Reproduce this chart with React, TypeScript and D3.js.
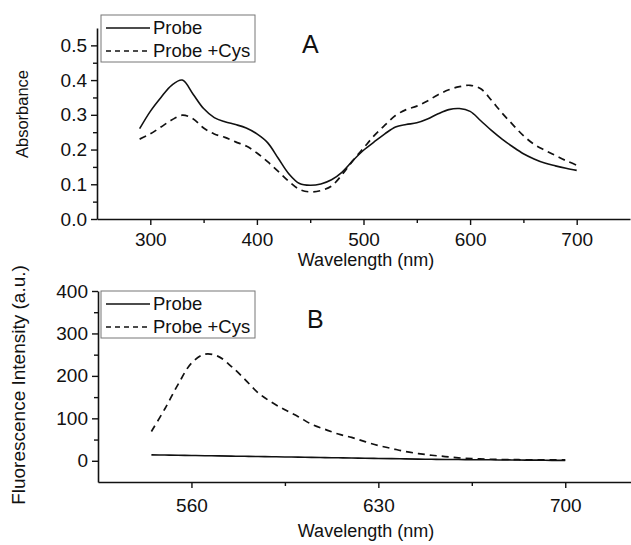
import React, { useEffect, useRef } from "react";
import * as d3 from "d3";

// Panel A: absorbance spectra
const absWavelength = [290,300,310,320,330,340,350,360,370,380,390,400,410,420,430,440,450,460,470,480,490,500,510,520,530,540,550,560,570,580,590,600,610,620,630,640,650,660,670,680,690,700];
const absProbe = [0.26,0.31,0.35,0.385,0.40,0.36,0.318,0.292,0.28,0.272,0.262,0.245,0.22,0.175,0.13,0.102,0.097,0.101,0.113,0.135,0.168,0.198,0.222,0.245,0.265,0.272,0.277,0.288,0.303,0.315,0.318,0.31,0.283,0.255,0.23,0.208,0.188,0.173,0.161,0.153,0.146,0.14];
const absProbeCys = [0.23,0.245,0.265,0.285,0.299,0.289,0.262,0.245,0.235,0.222,0.21,0.19,0.165,0.137,0.108,0.085,0.078,0.082,0.095,0.128,0.168,0.204,0.24,0.27,0.298,0.315,0.325,0.34,0.358,0.372,0.381,0.385,0.375,0.342,0.305,0.272,0.24,0.215,0.198,0.183,0.168,0.155];

// Panel B: fluorescence spectra
const flWavelength = [545,550,555,560,565,570,575,580,585,590,595,600,605,610,615,620,625,630,635,640,645,650,655,660,665,670,675,680,685,690,695,700];
const flProbe = [14,13.5,13,12.5,12,11.5,11,10.5,10,9.5,9,8.5,8,7.5,7,6.5,6,5.5,5,4.5,4,3.5,3,3,2.5,2.5,2,2,1.5,1.5,1,1];
const flProbeCys = [69,122,180,230,251,246,222,192,160,138,120,104,86,74,63,55,45,36,29,22,17,13,10,7,5,4,3,3,2,2,2,2];

const seriesNames = ["Probe", "Probe +Cys"];
const absXTicks = [300, 400, 500, 600, 700];
const absXMinor = [350, 450, 550, 650];
const absYTicks = [0, 0.1, 0.2, 0.3, 0.4, 0.5];
const absYMinor = [0.05, 0.15, 0.25, 0.35, 0.45];
const flXTicks = [560, 630, 700];
const flXMinor = [595, 665];
const flYTicks = [0, 100, 200, 300, 400];
const flYMinor = [50, 150, 250, 350];

const FONT = "'Liberation Sans', Arial, Helvetica, sans-serif";

export default function App() {
  const ref = useRef<SVGSVGElement | null>(null);

  useEffect(() => {
    const svg = d3.select(ref.current);
    svg.selectAll("*").remove();
    svg.append("rect").attr("width", 631).attr("height", 545).attr("fill", "#fff");

    const drawPanel = (opts: any) => {
      const { x, y, xTicks, xMinor, yTicks, yMinor, yFmt, xPad, wl, s1, s2, legendY, letter, letterX, letterY, ylabel, ylabelX, ylabelY, ylabelSize, xlabelY } = opts;
      const g = svg.append("g").attr("font-family", FONT);
      const [y0] = y.range();
      const [x0] = x.range();

      const xAxis = g.append("g").attr("transform", `translate(0,${y0})`)
        .call(d3.axisBottom(x).tickValues(xTicks).tickSize(6).tickPadding(xPad).tickSizeOuter(0).tickFormat(d3.format("d") as any));
      g.append("g").attr("transform", `translate(0,${y0})`)
        .call(d3.axisBottom(x).tickValues(xMinor).tickSize(4).tickSizeOuter(0).tickFormat(() => ""))
        .select(".domain").remove();
      const yAxis = g.append("g").attr("transform", `translate(${x0},0)`)
        .call(d3.axisLeft(y).tickValues(yTicks).tickSize(6).tickPadding(4).tickSizeOuter(0).tickFormat(d3.format(yFmt) as any));
      g.append("g").attr("transform", `translate(${x0},0)`)
        .call(d3.axisLeft(y).tickValues(yMinor).tickSize(4).tickSizeOuter(0).tickFormat(() => ""))
        .select(".domain").remove();
      g.selectAll(".domain").attr("stroke", "#111").attr("stroke-width", 1.6);
      g.selectAll(".tick line").attr("stroke", "#111").attr("stroke-width", 1.4);
      [xAxis, yAxis].forEach((a) => a.selectAll("text").attr("font-size", 19).attr("fill", "#111").attr("font-family", FONT));
      xAxis.selectAll("text").attr("dy", 0).attr("y", xPad);

      const line = d3.line<number>()
        .x((_, i) => x(wl[i]))
        .y((d) => y(d))
        .curve(d3.curveCatmullRom.alpha(0.5));
      g.append("path").attr("d", line(s1)).attr("fill", "none").attr("stroke", "#111").attr("stroke-width", 1.6);
      g.append("path").attr("d", line(s2)).attr("fill", "none").attr("stroke", "#111").attr("stroke-width", 1.7).attr("stroke-dasharray", "7,5");

      // legend
      g.append("rect").attr("x", 101).attr("y", legendY).attr("width", 154).attr("height", 47)
        .attr("fill", "#fff").attr("stroke", "#777").attr("stroke-width", 1);
      g.append("line").attr("x1", 106).attr("x2", 150).attr("y1", legendY + 13).attr("y2", legendY + 13)
        .attr("stroke", "#111").attr("stroke-width", 1.6);
      g.append("line").attr("x1", 106).attr("x2", 150).attr("y1", legendY + 36).attr("y2", legendY + 36)
        .attr("stroke", "#111").attr("stroke-width", 1.6).attr("stroke-dasharray", "5,4");
      g.append("text").attr("x", 153).attr("y", legendY + 19).attr("font-size", 18.5).attr("fill", "#111").text(seriesNames[0]);
      g.append("text").attr("x", 153).attr("y", legendY + 42).attr("font-size", 18.5).attr("fill", "#111").text(seriesNames[1]);

      g.append("text").attr("x", letterX).attr("y", letterY).attr("font-size", 25).attr("fill", "#111").text(letter);

      g.append("text").attr("x", 366).attr("y", xlabelY).attr("text-anchor", "middle").attr("font-size", 18).attr("fill", "#111").text("Wavelength (nm)");
      g.append("text").attr("transform", `translate(${ylabelX},${ylabelY}) rotate(-90)`).attr("text-anchor", "middle")
        .attr("font-size", ylabelSize).attr("fill", "#111").text(ylabel);
    };

    drawPanel({
      x: d3.scaleLinear().domain([250, 750]).range([97, 630]),
      y: d3.scaleLinear().domain([0, 0.55]).range([219, 28]),
      xTicks: absXTicks, xMinor: absXMinor, yTicks: absYTicks, yMinor: absYMinor, yFmt: ".1f", xPad: 27,
      wl: absWavelength, s1: absProbe, s2: absProbeCys, legendY: 15,
      letter: "A", letterX: 302, letterY: 53,
      ylabel: "Absorbance", ylabelX: 28, ylabelY: 114, ylabelSize: 16.5, xlabelY: 266,
    });
    drawPanel({
      x: d3.scaleLinear().domain([525, 725]).range([98, 632]),
      y: d3.scaleLinear().domain([-50, 400]).range([482, 291]),
      xTicks: flXTicks, xMinor: flXMinor, yTicks: flYTicks, yMinor: flYMinor, yFmt: "d", xPad: 30,
      wl: flWavelength, s1: flProbe, s2: flProbeCys, legendY: 291,
      letter: "B", letterX: 307, letterY: 328,
      ylabel: "Fluorescence Intensity (a.u.)", ylabelX: 25, ylabelY: 385, ylabelSize: 19, xlabelY: 537,
    });
  }, []);

  return (
    <svg ref={ref} width={631} height={545} style={{ position: "absolute", left: 0, top: 0 }} />
  );
}
